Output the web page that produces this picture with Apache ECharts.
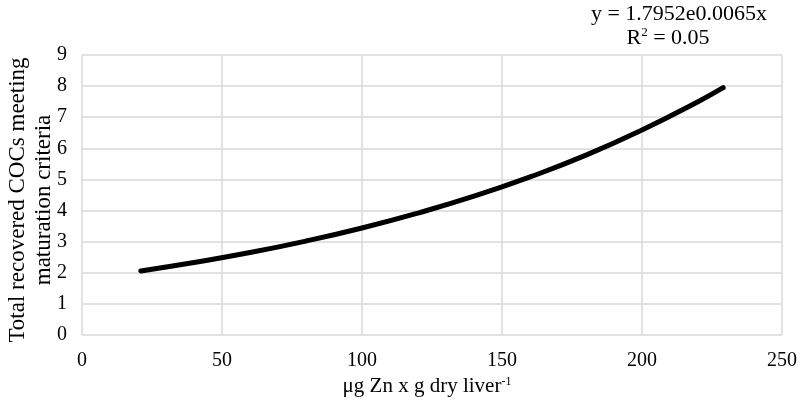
<!DOCTYPE html>
<html style="height: 100%">
<head>
    <meta charset="utf-8">
</head>
<body style="height: 100%; margin: 0; background: #fff">
    <div id="container" style="width: 800px; height: 405px"></div>
    <script type="text/javascript" src="https://cdn.jsdelivr.net/npm/echarts@6/dist/echarts.min.js"></script>
    <script type="text/javascript">
        // trendline points
        var zinc = [21, 40, 60, 80, 100, 120, 140, 160, 180, 200, 220, 229];
        var cocs = [2.06, 2.33, 2.65, 3.02, 3.44, 3.92, 4.46, 5.08, 5.78, 6.59, 7.50, 7.95];
        var equation = 'y = 1.7952e0.0065x';

        var font = 'Liberation Serif';
        var gridColor = '#d9d9d9';

        var myChart = echarts.init(document.getElementById('container'));
        var option = {
            animation: false,
            grid: { left: 82, right: 18, top: 55, bottom: 70, outerBoundsMode: 'none', containLabel: false },
            xAxis: {
                type: 'value',
                min: 0, max: 250, interval: 50,
                name: '{a|μg Zn x g dry liver}{s|-1}',
                nameLocation: 'middle',
                nameGap: 41,
                nameMoveOverlap: false,
                nameTextStyle: {
                    padding: [0, 10, 0, 0],
                    rich: {
                        a: { fontFamily: font, fontSize: 21, color: '#000' },
                        s: { fontFamily: font, fontSize: 12, color: '#000', verticalAlign: 'top', padding: [0, 0, 8, 0] }
                    }
                },
                axisLine: { show: false },
                axisTick: { show: false },
                axisLabel: { fontFamily: font, fontSize: 20, color: '#000', margin: 16 },
                splitLine: { lineStyle: { color: gridColor, width: 1.5 } }
            },
            yAxis: {
                type: 'value',
                min: 0, max: 9, interval: 1,
                name: 'Total recovered COCs meeting\nmaturation criteria',
                nameLocation: 'middle',
                nameRotate: 90,
                nameGap: 25,
                nameMoveOverlap: false,
                nameTextStyle: { fontFamily: font, fontSize: 23, color: '#000', lineHeight: 26, padding: [0, 10, 0, 0] },
                axisLine: { show: false },
                axisTick: { show: false },
                axisLabel: { fontFamily: font, fontSize: 20, color: '#000', margin: 15 },
                splitLine: { lineStyle: { color: gridColor, width: 1.5 } }
            },
            graphic: [{
                type: 'text',
                x: 679, y: 2,
                style: {
                    text: '{a|' + equation + '}\n{b|R}{s|2}{c| = 0.05}',
                    align: 'center',
                    rich: {
                        a: { fontFamily: font, fontSize: 22, fill: '#000', lineHeight: 24 },
                        b: { fontFamily: font, fontSize: 22, fill: '#000', lineHeight: 24 },
                        c: { fontFamily: font, fontSize: 22, fill: '#000', lineHeight: 24, padding: [0, 22, 0, 0] },
                        s: { fontFamily: font, fontSize: 13, fill: '#000', verticalAlign: 'top', lineHeight: 16 }
                    }
                }
            }],
            series: [{
                type: 'line',
                data: zinc.map(function (x, i) { return [x, cocs[i]]; }),
                smooth: true,
                showSymbol: false,
                lineStyle: { color: '#000', width: 5, cap: 'round' }
            }]
        };
        myChart.setOption(option);
    </script>
</body>
</html>
